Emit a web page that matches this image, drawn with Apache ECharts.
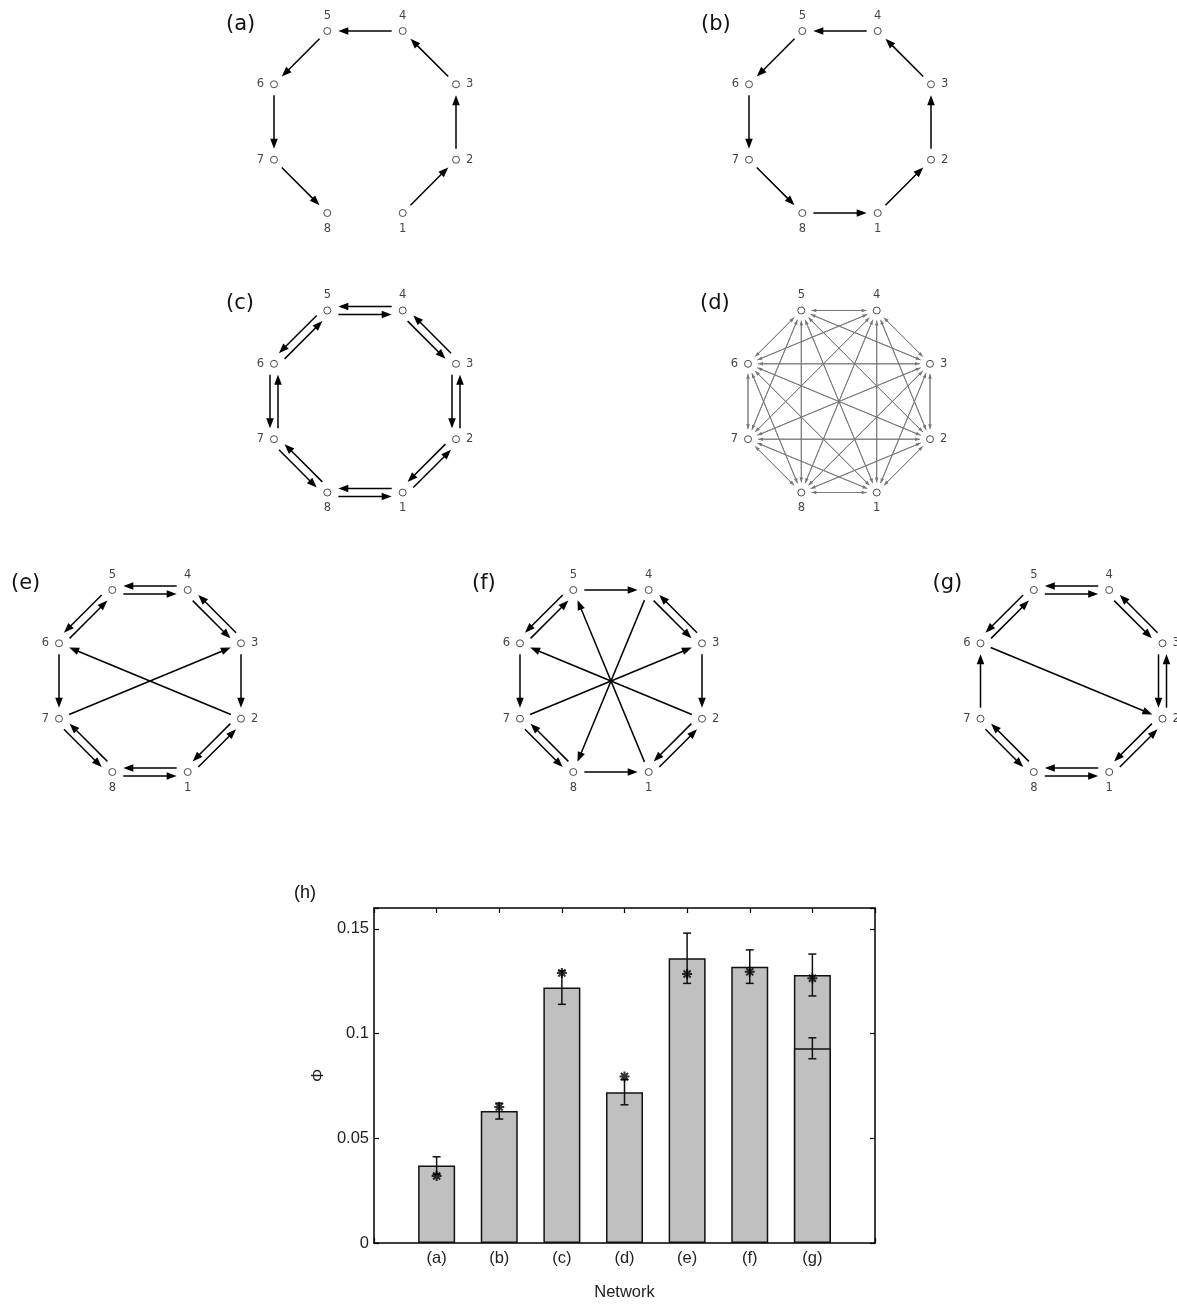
<!DOCTYPE html>
<html><head><meta charset="utf-8">
<script src="https://cdn.jsdelivr.net/npm/echarts@6/dist/echarts.min.js"></script>
<style>html,body{margin:0;padding:0;background:#fff}#c{width:1177px;height:1305px}</style>
</head><body><div id="c"></div>
<script>
// ---------------- data ----------------
const nodeIds = [1, 2, 3, 4, 5, 6, 7, 8];
const panelLabels = ['(a)', '(b)', '(c)', '(d)', '(e)', '(f)', '(g)'];
const edgesA = [[1,2],[2,3],[3,4],[4,5],[5,6],[6,7],[7,8]];
const edgesB = [[1,2],[2,3],[3,4],[4,5],[5,6],[6,7],[7,8],[8,1]];
const edgesC = [[1,2],[2,1],[2,3],[3,2],[3,4],[4,3],[4,5],[5,4],[5,6],[6,5],[6,7],[7,6],[7,8],[8,7],[8,1],[1,8]];
const edgesD = []; // complete directed graph: every node to every other node
nodeIds.forEach(i => nodeIds.forEach(j => { if (i !== j) edgesD.push([i, j]); }));
const edgesE = [[1,2],[2,1],[3,4],[4,3],[4,5],[5,4],[5,6],[6,5],[7,8],[8,7],[8,1],[1,8],[3,2],[6,7],[7,3],[2,6]];
const edgesF = [[5,4],[3,4],[4,3],[3,2],[1,2],[2,1],[8,1],[7,8],[8,7],[6,7],[5,6],[6,5],[1,5],[4,8],[7,3],[2,6]];
const edgesG = [[4,5],[5,4],[3,4],[4,3],[2,3],[3,2],[1,2],[2,1],[8,1],[1,8],[7,8],[8,7],[7,6],[5,6],[6,5],[6,2]];
const networks = [edgesA, edgesB, edgesC, edgesD, edgesE, edgesF, edgesG];

const barCategories = ['(a)', '(b)', '(c)', '(d)', '(e)', '(f)', '(g)'];
const phiMean = [0.037, 0.063, 0.122, 0.072, 0.136, 0.132, 0.128];
const phiErr  = [0.0042, 0.0038, 0.008, 0.006, 0.012, 0.008, 0.010];
const phiStar = [0.032, 0.065, 0.129, 0.0795, 0.1285, 0.1295, 0.1265];
const innerMean = [null, null, null, null, null, null, 0.093];
const innerErr  = [null, null, null, null, null, null, 0.005];
const yTickValues = [0, 0.05, 0.1, 0.15];
const yTickLabels = ['0', '0.05', '0.1', '0.15'];

// ---------------- layout ----------------
const R = 98.5;
const panelCenters = [[365,122],[840,122],[365,401.5],[839,401.5],[150,681],[611,681],[1071.5,681]];
function nodePos(k) {
  const a = (-67.5 + 45 * (k - 1)) * Math.PI / 180;
  return [Math.cos(a), Math.sin(a)];
}
function labelPos(k) {
  if (k === 1 || k === 8) return 'bottom';
  if (k === 2 || k === 3) return 'right';
  if (k === 4 || k === 5) return 'top';
  return 'left';
}

function edgeRenderer(st) {
  return function (params, api) {
    const a = api.coord([api.value(0), api.value(1)]);
    const b = api.coord([api.value(2), api.value(3)]);
    const off = api.value(4) ? st.offset : 0;
    const dx = b[0] - a[0], dy = b[1] - a[1];
    const L = Math.hypot(dx, dy);
    const ux = dx / L, uy = dy / L;
    const nx = -uy, ny = ux;
    const sx = a[0] + ux * st.gap + nx * off, sy = a[1] + uy * st.gap + ny * off;
    const tx = b[0] - ux * st.gap + nx * off, ty = b[1] - uy * st.gap + ny * off;
    const bx = tx - ux * st.head, by = ty - uy * st.head;
    return { type: 'group', children: [
      { type: 'line', shape: { x1: sx, y1: sy, x2: bx + ux, y2: by + uy },
        style: { stroke: st.color, lineWidth: st.width } },
      { type: 'polygon', shape: { points: [[tx, ty], [bx + nx * st.hw, by + ny * st.hw], [bx - nx * st.hw, by - ny * st.hw]] },
        style: { fill: st.color } }
    ]};
  };
}

const grids = [], xAxes = [], yAxes = [], series = [], titles = [];
networks.forEach((edges, i) => {
  const c = panelCenters[i];
  grids.push({ left: c[0] - R, top: c[1] - R, width: 2 * R, height: 2 * R, outerBoundsMode: 'none', containLabel: false });
  xAxes.push({ gridIndex: i, type: 'value', min: -1, max: 1, show: false });
  yAxes.push({ gridIndex: i, type: 'value', min: -1, max: 1, show: false });
  titles.push({ text: panelLabels[i], left: c[0] - 144, top: c[1] - 113,
    textStyle: { fontFamily: 'DejaVu Sans', fontSize: 21, fontWeight: 'normal', color: '#111' } });
  const isD = i === 3;
  const st = isD ? { color: '#777', width: 0.9, head: 5, hw: 1.8, gap: 10, offset: 0 }
                 : { color: '#000', width: 1.5, head: 10, hw: 3.8, gap: 11, offset: 4 };
  const edgeData = edges.map(([s, t]) => {
    const p = nodePos(s), q = nodePos(t);
    const bidir = edges.some(([s2, t2]) => s2 === t && t2 === s) ? 1 : 0;
    return [p[0], p[1], q[0], q[1], bidir];
  });
  series.push({ type: 'custom', xAxisIndex: i, yAxisIndex: i, clip: false, silent: true,
    encode: { x: [0, 2], y: [1, 3] }, renderItem: edgeRenderer(st), data: edgeData, z: 2 });
  series.push({ type: 'scatter', xAxisIndex: i, yAxisIndex: i, symbol: 'circle', symbolSize: 7, silent: true,
    itemStyle: { color: '#fff', borderColor: '#222', borderWidth: 1 }, z: 3,
    data: nodeIds.map(k => ({ value: nodePos(k),
      label: { show: true, formatter: String(k), position: labelPos(k), distance: labelPos(k) === 'top' ? 5 : 6,
        fontFamily: 'DejaVu Sans', fontSize: 11.5, color: '#111' } })) });
});

// ---------------- bar chart (h) ----------------
const gi = 7;
grids.push({ left: 374, top: 908, width: 501, height: 335, outerBoundsMode: 'none', containLabel: false });
const axLine = { show: true, onZero: false, lineStyle: { color: '#000', width: 1.5 } };
const axTick = { show: true, inside: true, length: 5, lineStyle: { color: '#000', width: 1.2 } };
const txt = { fontFamily: 'Liberation Sans', fontSize: 16.5, color: '#222' };
xAxes.push({ gridIndex: gi, type: 'value', min: 0, max: 8, interval: 1, position: 'bottom',
  axisLine: axLine, axisTick: axTick, splitLine: { show: false },
  axisLabel: Object.assign({ margin: 7, formatter: v => barCategories[v - 1] || '' }, txt),
  name: 'Network', nameLocation: 'middle', nameGap: 41, nameTextStyle: txt });
xAxes.push({ gridIndex: gi, type: 'value', min: 0, max: 8, interval: 1, position: 'top',
  axisLine: axLine, axisTick: axTick, splitLine: { show: false }, axisLabel: { show: false } });
yAxes.push({ gridIndex: gi, type: 'value', min: 0, max: 0.16, interval: 0.05, position: 'left',
  axisLine: axLine, axisTick: axTick, splitLine: { show: false },
  axisLabel: Object.assign({ margin: 5, formatter: v => {
    const idx = yTickValues.findIndex(t => Math.abs(t - v) < 1e-9); return idx >= 0 ? yTickLabels[idx] : ''; } }, txt),
  name: 'Φ', nameLocation: 'middle', nameGap: 47, nameRotate: 90, nameTextStyle: txt });
yAxes.push({ gridIndex: gi, type: 'value', min: 0, max: 0.16, interval: 0.05, position: 'right',
  axisLine: axLine, axisTick: axTick, splitLine: { show: false }, axisLabel: { show: false } });
titles.push({ text: '(h)', left: 289, top: 879,
  textStyle: { fontFamily: 'Liberation Sans', fontSize: 18, fontWeight: 'normal', color: '#111' } });

const barStyle = { color: '#c0c0c0', borderColor: '#111', borderWidth: 1.5 };
series.push({ type: 'bar', xAxisIndex: 7, yAxisIndex: 7, barWidth: 37, barGap: '-100%', silent: true,
  itemStyle: barStyle, z: 2, data: phiMean.map((v, i) => [i + 1, v]) });
series.push({ type: 'bar', xAxisIndex: 7, yAxisIndex: 7, barWidth: 37, barGap: '-100%', silent: true,
  itemStyle: barStyle, z: 3, data: innerMean.map((v, i) => [i + 1, v]).filter(d => d[1] !== null) });

function errRenderer(params, api) {
  const x = api.value(0), m = api.value(1), e = api.value(2);
  const lo = api.coord([x, m - e]), hi = api.coord([x, m + e]);
  const cw = 4;
  const s = { stroke: '#111', lineWidth: 1.5 };
  return { type: 'group', children: [
    { type: 'line', shape: { x1: lo[0], y1: lo[1], x2: hi[0], y2: hi[1] }, style: s },
    { type: 'line', shape: { x1: lo[0] - cw, y1: lo[1], x2: lo[0] + cw, y2: lo[1] }, style: s },
    { type: 'line', shape: { x1: hi[0] - cw, y1: hi[1], x2: hi[0] + cw, y2: hi[1] }, style: s }
  ]};
}
const errData = phiMean.map((m, i) => [i + 1, m, phiErr[i]])
  .concat(innerMean.map((m, i) => [i + 1, m, innerErr[i]]).filter(d => d[1] !== null));
series.push({ type: 'custom', xAxisIndex: 7, yAxisIndex: 7, silent: true, z: 4,
  encode: { x: 0, y: 1 }, renderItem: errRenderer, data: errData });
series.push({ type: 'scatter', xAxisIndex: 7, yAxisIndex: 7, silent: true, z: 5,
  symbol: 'path://M0,-10L0,10M-10,0L10,0M-7.07,-7.07L7.07,7.07M-7.07,7.07L7.07,-7.07',
  symbolSize: 10, itemStyle: { color: 'rgba(0,0,0,0)', borderColor: '#000', borderWidth: 2 },
  data: phiStar.map((v, i) => [i + 1, v]) });

const chart = echarts.init(document.getElementById('c'), null, { renderer: 'canvas' });
chart.setOption({ animation: false, backgroundColor: '#fff', title: titles,
  grid: grids, xAxis: xAxes, yAxis: yAxes, series: series });
</script></body></html>
